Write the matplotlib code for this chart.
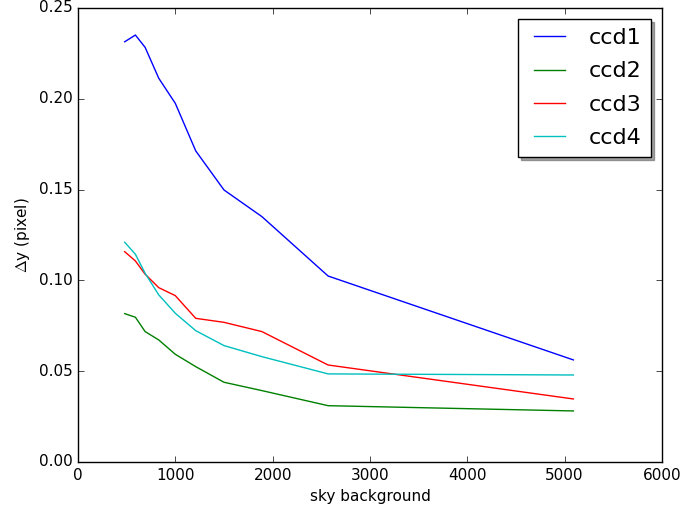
import matplotlib
matplotlib.use("Agg")
import matplotlib.pyplot as plt

plt.style.use("classic")
plt.rcParams["font.size"] = 11

# sky background values (shared x)
sky = [480, 590, 690, 830, 1000, 1210, 1500, 1890, 2570, 5090]

ccd1 = [0.2314, 0.2351, 0.2283, 0.2113, 0.1975, 0.1713, 0.1498, 0.1351, 0.1024, 0.0562]
ccd2 = [0.0817, 0.0797, 0.0718, 0.0672, 0.0593, 0.0525, 0.0439, 0.0393, 0.0310, 0.0281]
ccd3 = [0.1158, 0.1107, 0.1034, 0.0960, 0.0916, 0.0791, 0.0769, 0.0718, 0.0534, 0.0347]
ccd4 = [0.1210, 0.1144, 0.1039, 0.0920, 0.0819, 0.0723, 0.0641, 0.0580, 0.0485, 0.0479]

fig = plt.figure(figsize=(6.81, 5.12), dpi=100)
ax = fig.add_axes([0.1145, 0.0977, 0.8575, 0.8867])

ax.plot(sky, ccd1, color="b", label="ccd1")
ax.plot(sky, ccd2, color="g", label="ccd2")
ax.plot(sky, ccd3, color="r", label="ccd3")
ax.plot(sky, ccd4, color="c", label="ccd4")

ax.set_xlim(0, 6000)
ax.set_ylim(0, 0.25)
ax.set_xlabel("sky background")
ax.set_ylabel("$\\Delta$y (pixel)")

ax.legend(loc="upper right", shadow=True, fontsize=16, labelspacing=0.6)

fig.savefig("out.png", dpi=100)
